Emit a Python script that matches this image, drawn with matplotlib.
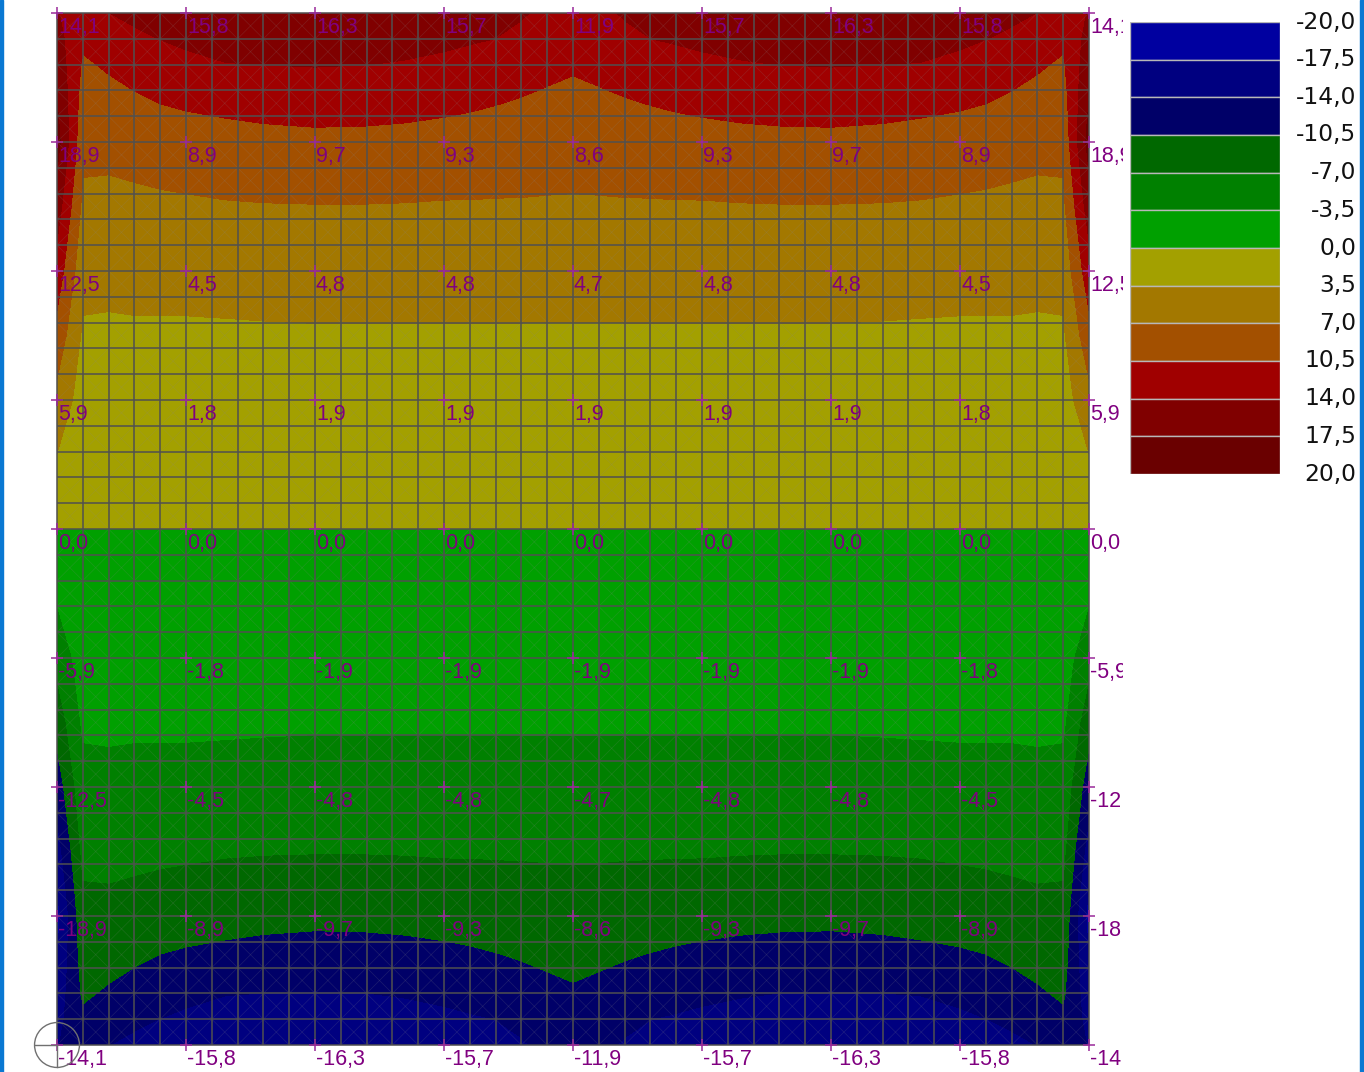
import numpy as np
import matplotlib
matplotlib.use('Agg')
import matplotlib.pyplot as plt
from matplotlib.patches import Rectangle, Circle
from matplotlib.collections import LineCollection
from matplotlib import transforms

# contour bands (legend, top to bottom) and their colours
levels = [-20.0, -17.5, -14.0, -10.5, -7.0, -3.5, 0.0, 3.5, 7.0, 10.5, 14.0, 17.5, 20.0]
band_colors = ['#0000a0', '#000080', '#000068', '#006800', '#008000', '#00a000',
               '#a3a000', '#a37800', '#a35000', '#a00000', '#800000', '#6a0000']

# values printed at the label nodes (every 5 mesh cells), top row first
node_rows = [
    [14.1, 15.8, 16.3, 15.7, 11.9, 15.7, 16.3, 15.8, 14.1],
    [18.9, 8.9, 9.7, 9.3, 8.6, 9.3, 9.7, 8.9, 18.9],
    [12.5, 4.5, 4.8, 4.8, 4.7, 4.8, 4.8, 4.5, 12.5],
    [5.9, 1.8, 1.9, 1.9, 1.9, 1.9, 1.9, 1.8, 5.9],
    [0.0, 0.0, 0.0, 0.0, 0.0, 0.0, 0.0, 0.0, 0.0],
    [-5.9, -1.8, -1.9, -1.9, -1.9, -1.9, -1.9, -1.8, -5.9],
    [-12.5, -4.5, -4.8, -4.8, -4.7, -4.8, -4.8, -4.5, -12.5],
    [-18.9, -8.9, -9.7, -9.3, -8.6, -9.3, -9.7, -8.9, -18.9],
    [-14.1, -15.8, -16.3, -15.7, -11.9, -15.7, -16.3, -15.8, -14.1],
]

# field read off the upper-left quarter of the plate, in mesh cells
# (x from the left edge to the middle, y down from the top edge to the middle)
field_x_half = [0, 1, 2, 3, 4, 5, 6.5, 8, 10, 12, 13.5, 15, 16, 17, 18, 19, 20]
field_y_half = [0, 1, 2, 3, 4, 5, 6, 7.5, 10, 12.5, 15, 17.5, 20]
field_quarter = [
    [14.1, 13.0, 13.95, 14.8, 15.3, 15.8, 16.0, 16.2, 16.3, 16.2, 16.0, 15.7, 15.4, 15.0, 14.3, 13.3, 11.9],
    [15.1, 11.15, 12.45, 13.3, 14.05, 14.6, 14.95, 15.1, 15.2, 15.1, 14.9, 14.6, 14.3, 13.98, 13.25, 12.3, 11.35],
    [16.1, 10.05, 10.9, 11.9, 12.6, 13.2, 13.9, 14.02, 14.15, 14.02, 13.8, 13.4, 13.0, 12.6, 12.0, 11.3, 10.8],
    [17.1, 9.35, 9.85, 10.52, 11.15, 11.7, 12.2, 12.45, 12.6, 12.5, 12.3, 12.0, 11.6, 11.2, 10.75, 10.35, 10.1],
    [18.0, 8.65, 9.2, 9.5, 9.9, 10.2, 10.6, 10.9, 11.1, 11.05, 10.85, 10.55, 10.3, 10.0, 9.77, 9.55, 9.35],
    [18.9, 7.95, 8.07, 8.5, 8.83, 8.9, 9.2, 9.5, 9.7, 9.6, 9.5, 9.3, 9.25, 9.05, 8.86, 8.7, 8.6],
    [17.6, 7.25, 7.2, 7.45, 7.75, 7.9, 8.2, 8.4, 8.6, 8.5, 8.4, 8.25, 8.2, 8.1, 8.0, 7.85, 7.8],
    [15.7, 6.25, 6.1, 6.25, 6.4, 6.55, 6.75, 6.85, 6.9, 6.9, 6.85, 6.75, 6.75, 6.7, 6.7, 6.65, 6.6],
    [12.5, 4.6, 4.35, 4.5, 4.5, 4.5, 4.6, 4.7, 4.8, 4.8, 4.8, 4.8, 4.8, 4.75, 4.75, 4.7, 4.7],
    [9.2, 3.0, 3.0, 3.05, 3.05, 3.06, 3.1, 3.15, 3.2, 3.2, 3.2, 3.2, 3.2, 3.2, 3.2, 3.2, 3.2],
    [5.9, 1.9, 1.8, 1.8, 1.8, 1.8, 1.8, 1.85, 1.9, 1.9, 1.9, 1.9, 1.9, 1.9, 1.9, 1.9, 1.9],
    [3.0, 0.95, 0.9, 0.9, 0.9, 0.9, 0.9, 0.93, 0.95, 0.95, 0.95, 0.95, 0.95, 0.95, 0.95, 0.95, 0.95],
    [0.0] * 17,
]

W, H = 1364, 1072
fig = plt.figure(figsize=(W / 100, H / 100), dpi=100)
fig.patch.set_facecolor('white')

# the plate is mirror-symmetric left/right and antisymmetric top/bottom (as the labels show)
q = np.array(field_quarter)
top = np.hstack([q, q[:, -2::-1]])
Z = np.vstack([top, -top[-2::-1]])
fx = np.array(field_x_half + [40 - v for v in field_x_half[-2::-1]])
fy = np.array(field_y_half + [40 - v for v in field_y_half[-2::-1]])
X, Y = np.meshgrid(fx, fy)

ax = fig.add_axes([57 / W, (H - 1045) / H, 1032 / W, 1032 / H])
ax.set_xlim(0, 40)
ax.set_ylim(40, 0)
ax.set_axis_off()
ax.contourf(X, Y, Z, levels=levels, colors=band_colors, zorder=1)

# faint diagonals inside each mesh cell
segs = []
for k in range(-39, 40):
    segs.append([(max(0, k), max(0, -k)), (min(40, 40 + k), min(40, 40 - k))])
for k in range(1, 80):
    segs.append([(max(0, k - 40), min(40, k)), (min(40, k), max(0, k - 40))])
ax.add_collection(LineCollection(segs, colors='#8a8a8a', linewidths=0.5, alpha=0.2, zorder=2))

# mesh lines
ax.vlines(range(41), 0, 40, colors='#505050', linewidth=1.1, zorder=3, clip_on=False)
ax.hlines(range(41), 0, 40, colors='#505050', linewidth=1.1, zorder=3, clip_on=False)

# node crosses and values
pos = list(range(0, 41, 5))
nx, ny = np.meshgrid(pos, pos)
ax.plot(nx.ravel(), ny.ravel(), '+', ms=9, mew=1.1, color='#9a2a9a', zorder=4, clip_on=False)

clip = transforms.TransformedBbox(transforms.Bbox([[0, 0], [1123 / W, 1]]), fig.transFigure)
off = transforms.offset_copy(ax.transData, fig, x=1, y=-4, units='dots')
for j, row in enumerate(node_rows):
    for i, v in enumerate(row):
        t = ax.text(pos[i], pos[j], f'{v:.1f}'.replace('.', ','), transform=off,
                    ha='left', va='top', fontsize=15.5, color='#800080',
                    family='Liberation Sans', zorder=5)
        t.set_clip_on(True)
        t.set_clip_box(clip)

# origin symbol at the lower-left corner
ax.add_patch(Circle((0, 40), 0.87, fill=False, edgecolor='#707070', linewidth=1, clip_on=False, zorder=6))
ax.plot([-0.87, 0], [40, 40], color='#707070', linewidth=1, clip_on=False, zorder=6)
ax.plot([0, 0], [40, 40.87], color='#707070', linewidth=1, clip_on=False, zorder=6)

# legend
lax = fig.add_axes([1130 / W, (H - 474) / H, 150 / W, 452 / H])
lax.set_xlim(0, 1)
lax.set_ylim(len(band_colors), 0)
lax.set_axis_off()
for i, c in enumerate(band_colors):
    lax.add_patch(Rectangle((0, i), 1, 1, facecolor=c, edgecolor='#b8b8b8', linewidth=1))
ltr = transforms.blended_transform_factory(fig.transFigure, lax.transData)
for i, v in enumerate(levels):
    lax.text(1356 / W, i, f'{v:.1f}'.replace('.', ','), transform=ltr, ha='right', va='center',
             fontsize=16.8, color='#111111', family='DejaVu Sans', clip_on=False)

# window frame strips
fig.patches.append(Rectangle((0, 0), 3 / W, 1, transform=fig.transFigure, color='#0a78d2'))
fig.patches.append(Rectangle((1360 / W, 0), 4 / W, 1, transform=fig.transFigure, color='#0a78d2'))

fig.savefig('out.png', dpi=100)
